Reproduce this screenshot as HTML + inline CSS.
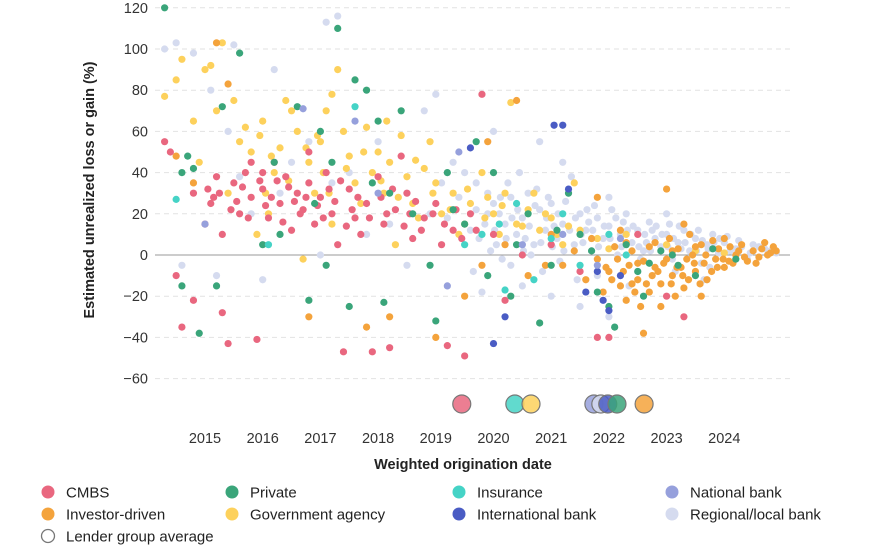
<!DOCTYPE html>
<html><head><meta charset="utf-8"><style>
body{margin:0;background:#fff;font-family:"Liberation Sans",sans-serif;}
svg text{font-family:"Liberation Sans",sans-serif;}
</style></head><body>
<svg id="chart" width="870" height="550" viewBox="0 0 870 550" xmlns="http://www.w3.org/2000/svg">
<g id="grid"></g>
<g id="yticks"></g>
<g id="xticks"></g>
<g id="points"></g>
<g id="avgs"></g>
<text transform="translate(94,190) rotate(-90)" text-anchor="middle" font-size="14.5" font-weight="bold" fill="#222">Estimated unrealized loss or gain (%)</text>
<text x="463" y="469" text-anchor="middle" font-size="14.5" font-weight="bold" fill="#222">Weighted origination date</text>
<g id="legend"></g>
</svg>
<script>
const yTicks=[120,100,80,60,40,20,0,-20,-40,-60];
const xTickYears=[2015,2016,2017,2018,2019,2020,2021,2022,2023,2024];
const seriesNames=["Regional/local bank","Government agency","Investor-driven","CMBS","Private","Insurance","International bank","National bank"];
const seriesColors=["#d5dbef","#fdd15c","#f4a33c","#e9677f","#3aa57a","#45d3c6","#4a5cc4","#96a0dc"];
const regional=[[2014.3,100],[2014.5,103],[2014.8,98],[2015.1,80],[2015.5,102],[2015.4,60],[2016.2,90],[2016.8,55],[2017.1,113],[2017.3,116],[2016.5,45],[2015.8,20],[2014.6,-5],[2015.2,-10],[2016,-12],[2017,0],[2017.5,40],[2018,55],[2018.5,30],[2018.8,70],[2019,78],[2019.3,45],[2019.5,40],[2019.7,35],[2019.9,30],[2020,25],[2020.1,20],[2020.2,15],[2020.3,28],[2020.4,10],[2020.5,18],[2020.6,30],[2020.7,5],[2020.8,22],[2020.9,12],[2021,25],[2021.1,8],[2021.2,15],[2021.3,30],[2021.4,5],[2021.5,20],[2021.6,12],[2021.7,2],[2021.8,18],[2021.9,8],[2022,14],[2022.1,4],[2022.2,10],[2022.3,20],[2022.4,6],[2022.5,12],[2022.6,2],[2022.7,16],[2022.8,8],[2022.9,4],[2023,10],[2023.1,-2],[2023.2,6],[2023.3,12],[2023.4,2],[2023.5,8],[2023.6,-4],[2023.7,5],[2023.8,10],[2023.9,1],[2024,6],[2024.2,3],[2024.4,-2],[2024.6,4],[2024.8,2],[2024.9,1],[2020.5,-15],[2021,-20],[2021.5,-25],[2022,-30],[2019.8,-18],[2020.3,-5],[2021.8,-10],[2022.5,-8],[2021.2,45],[2020.8,55],[2020,60],[2022,28],[2023,20],[2019.2,18],[2018.5,-5],[2017.8,10],[2020.05,5],[2020.55,8],[2021.05,14],[2021.55,6],[2022.05,22],[2022.55,-2],[2023.05,15],[2023.55,12],[2024.05,9],[2020.25,35],[2020.75,32],[2021.25,26],[2021.75,24],[2022.25,16],[2022.75,12],[2023.25,3],[2023.75,-6],[2024.25,7],[2024.5,5],[2019.6,12],[2019.9,20],[2020.15,-2],[2020.65,0],[2021.15,-3],[2021.65,16],[2022.15,0],[2022.65,6],[2023.15,-8],[2023.65,-12],
[2019.7,22],[2019.75,8],[2019.85,15],[2019.95,2],[2020.02,12],[2020.12,28],[2020.22,8],[2020.32,18],[2020.42,22],[2020.52,2],[2020.62,14],[2020.72,24],[2020.82,6],[2020.92,18],[2021.02,4],[2021.12,20],[2021.22,2],[2021.32,12],[2021.42,18],[2021.52,10],[2021.62,22],[2021.72,12],[2021.82,4],[2021.92,14],[2022.02,8],[2022.12,18],[2022.22,4],[2022.32,12],[2022.42,14],[2022.52,4],[2022.62,10],[2022.72,2],[2022.82,14],[2022.92,10],[2023.02,4],[2023.12,8],[2023.22,14],[2023.32,6],[2023.42,10],[2023.52,2],[2023.62,7],[2023.72,3],[2023.82,6],[2023.92,8],[2024.1,2],[2024.3,4],[2024.45,1],[2024.7,3],[2019.4,28],[2019.1,35],[2018.9,20],[2018.2,15],[2017.2,35],[2016.3,30],[2015.6,38],[2020.45,40],[2021.35,38],[2020.85,-8],[2021.45,-12],[2022.35,-15],[2019.65,-8],[2020.95,28]];
const gov=[[2014.3,77],[2014.5,85],[2014.6,95],[2014.8,65],[2015,90],[2015.1,92],[2015.3,103],[2015.2,70],[2015.5,75],[2015.6,55],[2015.8,50],[2016,65],[2016.2,40],[2016.4,75],[2016.6,60],[2016.8,45],[2016.9,30],[2017,55],[2017.1,70],[2017.2,78],[2017.3,90],[2017.4,60],[2017.5,48],[2017.6,35],[2017.8,62],[2017.9,40],[2018,50],[2018.1,30],[2018.2,45],[2018.4,58],[2018.5,38],[2018.6,25],[2018.8,42],[2019,35],[2019.1,20],[2019.3,30],[2019.5,15],[2019.6,25],[2019.8,40],[2020,20],[2020.1,10],[2020.2,30],[2020.3,74],[2020.4,15],[2020.6,22],[2020.8,12],[2021,18],[2021.2,5],[2021.5,12],[2021.8,8],[2022,3],[2022.3,10],[2022.6,-3],[2023,5],[2015.9,10],[2016.7,-2],[2017.2,15],[2018.3,5],[2015.4,30],[2014.9,45],[2016.1,20],[2016.5,70],[2017.7,25],[2018.9,55],[2019.4,10],[2021.4,35],[2023.5,2],[2024,1],[2016.3,52],[2017.05,40],[2018.7,18],[2019.9,28],[2020.7,30],[2015.7,62],[2016.95,58],[2018.15,65],
[2016.15,48],[2016.45,36],[2016.75,52],[2017.15,30],[2017.45,42],[2017.75,50],[2018.05,36],[2018.35,28],[2018.65,46],[2018.95,30],[2019.25,22],[2019.55,32],[2019.85,18],[2020.15,24],[2020.5,14],[2020.9,20],[2021.1,10],[2021.3,14],[2016.05,30],[2015.95,58]];
const investor=[[2014.5,48],[2014.8,35],[2015.2,103],[2015.4,83],[2016.8,-30],[2017.8,-35],[2018.2,-30],[2019,-40],[2019.5,-20],[2019.9,55],[2020.4,75],[2020.2,5],[2020.6,-10],[2021,10],[2021.2,-5],[2021.4,2],[2021.6,-12],[2021.7,8],[2021.8,-2],[2021.9,-18],[2022,-8],[2022.1,4],[2022.2,-15],[2022.3,-22],[2022.35,-5],[2022.4,2],[2022.5,-12],[2022.55,-25],[2022.6,-3],[2022.7,-18],[2022.8,6],[2022.85,-8],[2022.9,-14],[2023,-2],[2023.05,8],[2023.1,-10],[2023.2,3],[2023.25,-6],[2023.3,-16],[2023.4,10],[2023.45,0],[2023.5,-8],[2023.6,5],[2023.65,-4],[2023.7,-12],[2023.8,7],[2023.85,-2],[2023.9,3],[2024,-6],[2024.1,4],[2024.2,0],[2024.3,5],[2024.4,-3],[2024.5,2],[2024.6,-1],[2024.7,6],[2024.8,1],[2024.9,2],[2023,32],[2022.6,-38],[2021.8,28],[2020.9,-5],[2019.8,-5],[2022.2,12],[2023.3,15],[2022.9,-25],[2023.6,-20],[2024,8],[2022.45,-18],[2023.15,-20],[2022.75,-10],[2023.35,-2],[2024.15,-4],
[2022.05,-12],[2022.15,-2],[2022.25,-8],[2022.4,-14],[2022.5,-4],[2022.65,-14],[2022.8,-6],[2022.95,-4],[2023.08,-14],[2023.18,-6],[2023.28,-10],[2023.38,-12],[2023.48,-4],[2023.58,-14],[2023.68,0],[2023.78,-8],[2023.88,-6],[2023.98,-2],[2024.08,-3],[2024.25,2],[2024.35,-1],[2024.55,-4],[2024.65,3],[2024.75,0],[2024.85,4],[2022.7,4],[2023.1,2],[2023.5,4],[2021.95,-6],[2022.3,6]];
const cmbs=[[2014.3,55],[2014.4,50],[2014.5,-10],[2014.6,-35],[2014.8,-22],[2015,15],[2015.05,32],[2015.1,25],[2015.2,38],[2015.3,-28],[2015.4,-43],[2015.5,35],[2015.6,20],[2015.7,40],[2015.8,28],[2015.9,-41],[2016,32],[2016.1,18],[2016.2,45],[2016.3,25],[2016.4,38],[2016.5,12],[2016.6,30],[2016.7,22],[2016.8,35],[2016.9,15],[2017,28],[2017.1,40],[2017.2,20],[2017.4,-47],[2017.5,32],[2017.6,18],[2017.7,10],[2017.8,25],[2017.9,-47],[2018,38],[2018.1,15],[2018.2,-45],[2018.3,22],[2018.5,30],[2018.6,8],[2018.8,18],[2019,25],[2019.1,5],[2019.2,-44],[2019.3,12],[2019.5,-49],[2019.6,20],[2019.8,78],[2020,10],[2020.2,-22],[2020.5,0],[2021,5],[2021.5,-8],[2021.8,-40],[2022,-40],[2022.5,10],[2023,-20],[2023.3,-30],[2016,40],[2015.3,10],[2017.3,5],[2018.4,48],[2016.8,50],[2015.8,45],[2014.8,30],[2015.15,28],[2015.65,33],[2016.15,28],[2016.65,20],[2017.15,32],[2017.65,28],[2018.15,20],[2018.65,26],[2019.15,15],[2015.45,22],[2016.45,33],[2017.45,14],
[2015.25,30],[2015.55,26],[2015.75,18],[2016.05,24],[2016.25,36],[2016.55,26],[2016.75,28],[2016.95,24],[2017.05,18],[2017.25,26],[2017.55,22],[2017.85,18],[2018.05,28],[2018.25,32],[2018.45,14],[2018.75,12],[2018.95,20],[2019.35,22],[2019.45,8],[2019.7,12],[2015.95,36],[2016.35,16],[2017.35,36],[2018.55,20]];
const priv=[[2014.3,120],[2014.6,40],[2014.7,48],[2014.8,42],[2014.6,-15],[2014.9,-38],[2015.3,72],[2015.6,98],[2016,5],[2016.3,10],[2016.6,72],[2016.8,-22],[2017,60],[2017.2,45],[2017.3,110],[2017.5,-25],[2017.6,85],[2017.8,80],[2018,65],[2018.2,30],[2018.4,70],[2018.6,20],[2018.9,-5],[2019,-32],[2019.2,40],[2019.5,15],[2019.7,55],[2020,40],[2020.3,-20],[2020.6,20],[2020.8,-33],[2021,-5],[2021.3,30],[2021.5,10],[2021.8,-18],[2022,-25],[2022.1,-35],[2022.3,5],[2022.5,-8],[2022.6,-20],[2022.9,2],[2023.2,-5],[2023.5,-10],[2023.8,3],[2024.2,-2],[2016.2,45],[2017.1,-5],[2018.1,-23],[2015.2,-15],[2019.9,-10],[2016.9,25],[2017.9,35],[2019.3,22],[2020.4,5],[2021.1,12],[2021.7,2],[2022.7,-4],[2023.1,0]];
const insurance=[[2014.5,27],[2016.1,5],[2017.6,72],[2019.8,10],[2020.1,15],[2020.4,25],[2020.7,-12],[2021,8],[2021.5,-5],[2022,10],[2022.3,0],[2020.2,-17],[2019.5,5],[2021.2,20]];
const intl=[[2019.6,52],[2020,-43],[2020.2,-30],[2021.05,63],[2021.2,63],[2021.6,-18],[2021.9,-22],[2022,-27],[2021.3,32],[2022.2,-10],[2021.8,-8]];
const national=[[2016.7,71],[2017.6,65],[2019.4,50],[2019.2,-15],[2020.5,5],[2021.2,10],[2021.8,-5],[2022.2,8],[2015,15],[2018,30]];
const seriesData=[regional,gov,investor,cmbs,priv,insurance,intl,national];
const avgNames=["National bank","Regional/local bank","International bank","Private","Investor-driven","CMBS","Insurance","Government agency"];
const avgYears=[2021.74,2021.86,2021.98,2022.14,2022.61,2019.45,2020.37,2020.65];
const avgColors=["#96a0dc","#d5dbef","#4a5cc4","#3aa57a","#f4a33c","#e9677f","#45d3c6","#fdd15c"];

const NS="http://www.w3.org/2000/svg";
const X=yr=>205+(yr-2015)*57.7;
const Y=v=>255-v*2.06;
function mk(t,p,a){const e=document.createElementNS(NS,t);for(const k in a)e.setAttribute(k,a[k]);p.appendChild(e);return e;}
const grid=document.getElementById('grid'),yt=document.getElementById('yticks'),xt=document.getElementById('xticks');
yTicks.forEach(v=>{
  const l=mk('line',grid,{x1:155,x2:790,y1:Y(v),y2:Y(v),stroke:v===0?'#999':'#e2e2e2','stroke-width':1,'stroke-dasharray':v===0?'':'5,4'});
  
  
  const t=mk('text',yt,{x:148,y:Y(v)+5,'text-anchor':'end','font-size':14.5,fill:'#333'});
  t.textContent=v<0?'\u2212'+(-v):String(v);
  
  
});
xTickYears.forEach(yr=>{
  const t=mk('text',xt,{x:X(yr),y:443,'text-anchor':'middle','font-size':14.5,fill:'#333'});
  t.textContent=String(yr);
  
  
});
const pts=document.getElementById('points');
seriesData.forEach((arr,i)=>{
  arr.forEach(d=>{
    const c=mk('circle',pts,{cx:X(d[0]),cy:Y(d[1]),r:3.6,fill:seriesColors[i]});
    
    
  });
});
const av=document.getElementById('avgs');
avgYears.forEach((yr,i)=>{
  const c=mk('circle',av,{cx:X(yr),cy:404,r:9,fill:avgColors[i],'fill-opacity':0.85,stroke:'#777','stroke-width':1.2});
  
  
});
const legendItems=[["CMBS","#e9677f",48,492],["Private","#3aa57a",232,492],["Insurance","#45d3c6",459,492],["National bank","#96a0dc",672,492],["Investor-driven","#f4a33c",48,514],["Government agency","#fdd15c",232,514],["International bank","#4a5cc4",459,514],["Regional/local bank","#d5dbef",672,514],["Lender group average","none",48,536]];
const lg=document.getElementById('legend');
legendItems.forEach(it=>{
  const g=mk('g',lg,{});
  
  
  mk('circle',g,{cx:it[2],cy:it[3],r:6.5,fill:it[1]==='none'?'#fff':it[1],stroke:it[1]==='none'?'#777':'none','stroke-width':1.3});
  const t=mk('text',g,{x:it[2]+18,y:it[3]+5.5,'font-size':15,fill:'#222'});
  t.textContent=it[0];
});
</script>
</body></html>
